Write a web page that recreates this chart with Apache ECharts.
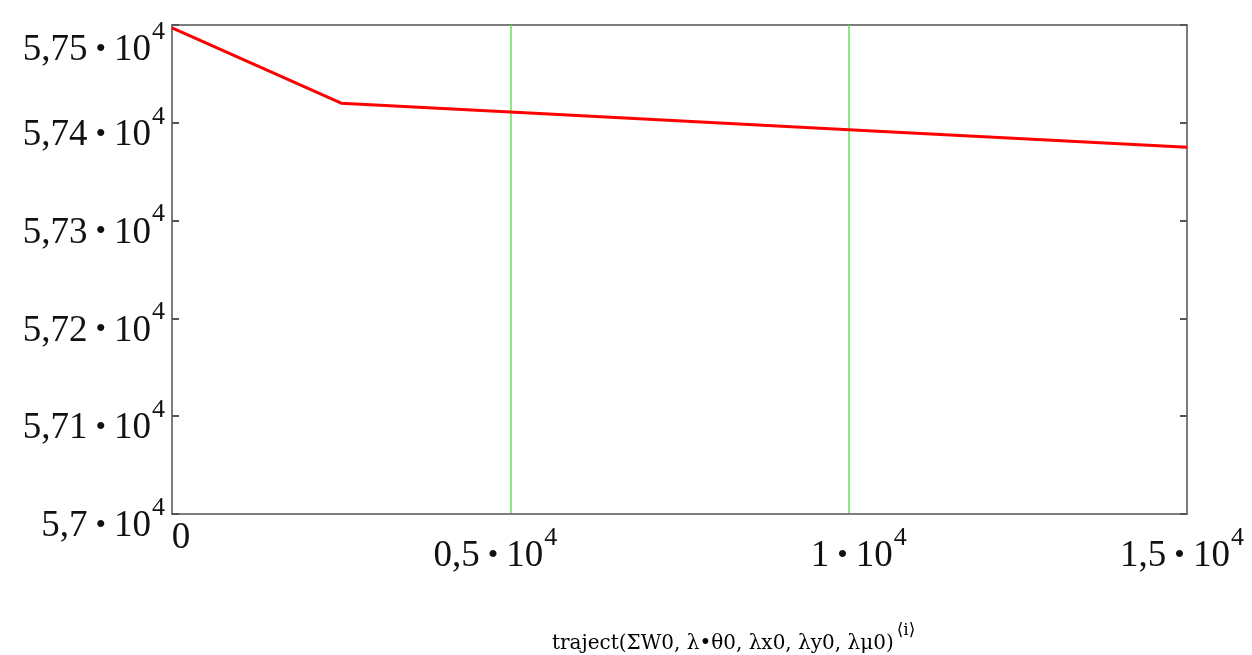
<!DOCTYPE html>
<html>
<head>
<meta charset="utf-8">
<script src="https://cdn.jsdelivr.net/npm/echarts@6/dist/echarts.min.js"></script>
<style>html,body{margin:0;padding:0;background:#fff}#c{width:1252px;height:655px}</style>
</head>
<body>
<div id="c"></div>
<script>
var xValues = [0, 2500, 5000, 10000, 15000];
var yValues = [57497, 57420, 57411, 57393, 57375];
var yTickLabels = {57000: '5,7', 57100: '5,71', 57200: '5,72', 57300: '5,73', 57400: '5,74', 57500: '5,75'};
var xTickLabels = {0: '0', 5000: '0,5', 10000: '1', 15000: '1,5'};
var xAxisTitle = 'traject(ΣW0, λ•θ0, λx0, λy0, λμ0)';
var xAxisTitleSup = '⟨i⟩';

var serif = '"Liberation Serif", "DejaVu Serif", serif';
var chart = echarts.init(document.getElementById('c'));

function buildRich(extra) {
  var r = {
    m: {fontFamily: serif, fontSize: 37, color: '#111', verticalAlign: 'bottom', lineHeight: 37},
    d: {fontFamily: serif, fontSize: 30, color: '#111', verticalAlign: 'bottom', lineHeight: 30, padding: [0, 8, 4, 8]},
    s: {fontFamily: serif, fontSize: 26, color: '#111', verticalAlign: 'bottom', lineHeight: 26, padding: [0, 0, 24, 1]}
  };
  extra.forEach(function (e) {
    r['h' + e] = {fontSize: 1, lineHeight: e, verticalAlign: 'bottom', width: 0};
    r['w' + e] = {fontSize: 1, lineHeight: 1, verticalAlign: 'bottom', width: e};
  });
  return r;
}
// label: spacer height H sets vertical offset, left/right spacer shifts horizontally
function label(t, H, left, right) {
  var s = '{h' + H + '|\u200b}';
  if (left) s += '{w' + left + '|\u200b}';
  s += '{m|' + t + '}{d|•}{m|10}{s|4}';
  if (right) s += '{w' + right + '|\u200b}';
  return s;
}
var richY = buildRich([62, 88]);
var richX = buildRich([55, 20, 30, 10, 36, 18]);
richX.z = {fontFamily: serif, fontSize: 37, color: '#111', verticalAlign: 'bottom', lineHeight: 37, padding: [0, 0, 0, 18]};

var data = xValues.map(function (x, i) { return [x, yValues[i]]; });

chart.setOption({
  animation: false,
  backgroundColor: '#fff',
  grid: {left: 172, top: 25, width: 1015, height: 489, show: true, borderColor: '#7d7d7d', borderWidth: 2, backgroundColor: 'transparent', outerBoundsMode: 'none', containLabel: false},
  xAxis: {
    type: 'value', min: 0, max: 15000, interval: 5000,
    axisLine: {show: true, lineStyle: {color: '#7d7d7d', width: 2}},
    axisTick: {show: false},
    splitLine: {show: true, lineStyle: {color: '#5fe35a', width: 1.5}},
    axisLabel: {
      margin: 6,
      showMinLabel: true, showMaxLabel: true,
      formatter: function (v) {
        var t = xTickLabels[v];
        if (t === undefined) return '';
        if (v === 0) return '{z|0}';
        if (v === 5000) return label(t, 55, 0, 30);
        if (v === 10000) return label(t, 55, 20, 0);
        return label(t, 55, 0, 10);
      },
      rich: richX
    }
  },
  yAxis: [{
    type: 'value', min: 57000, max: 57500, interval: 100,
    axisLine: {show: true, lineStyle: {color: '#7d7d7d', width: 2}},
    axisTick: {show: true, inside: true, length: 7, lineStyle: {color: '#555', width: 2}},
    splitLine: {show: false},
    axisLabel: {
      margin: 7,
      showMinLabel: true, showMaxLabel: true,
      formatter: function (v) {
        var t = yTickLabels[v];
        if (t === undefined) return '';
        return label(t, v === 57500 ? 88 : 62, 0, 0);
      },
      rich: richY
    }
  }, {
    type: 'value', min: 57000, max: 57500, interval: 100, position: 'right',
    axisLine: {show: true, lineStyle: {color: '#7d7d7d', width: 2}},
    axisTick: {show: true, inside: true, length: 7, lineStyle: {color: '#555', width: 2}},
    axisLabel: {show: false},
    splitLine: {show: false}
  }],
  graphic: [{
    type: 'text', left: 552, top: 620,
    style: {
      text: '{t|' + xAxisTitle + '}{u|' + xAxisTitleSup + '}',
      rich: {
        t: {fontFamily: '"DejaVu Serif", serif', fontSize: 20, color: '#333', verticalAlign: 'bottom', lineHeight: 34},
        u: {fontFamily: '"DejaVu Serif", serif', fontSize: 17, color: '#333', verticalAlign: 'top', lineHeight: 22, padding: [2, 0, 0, 3]}
      }
    }
  }],
  series: [{
    type: 'line', data: data, yAxisIndex: 0,
    showSymbol: false, symbol: 'none',
    lineStyle: {color: '#ff0000', width: 3},
    z: 5
  }]
});
</script>
</body>
</html>
